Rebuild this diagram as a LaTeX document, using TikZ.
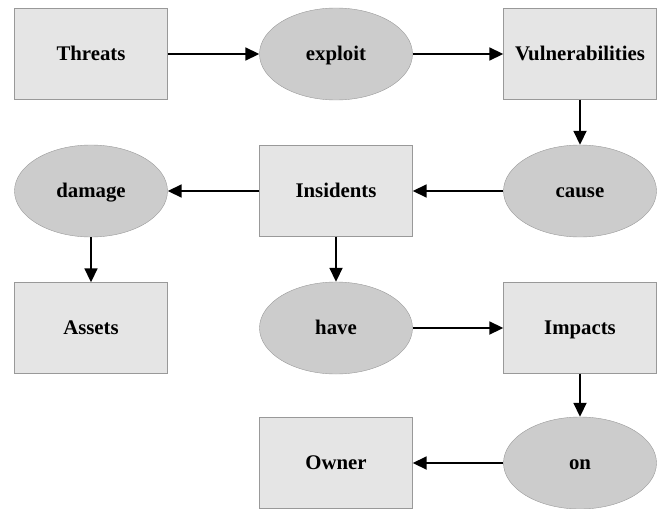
\documentclass[tikz,border=0pt]{standalone}
\usepackage{fontspec}
\setmainfont{Liberation Serif}
\usetikzlibrary{shapes.geometric,arrows.meta}
\begin{document}
\begin{tikzpicture}[x=1pt,y=-1pt,inner sep=0pt,
    box/.style={rectangle,draw=black!40,fill=black!10,minimum width=153pt,minimum height=91pt,text height=13.7pt,text depth=0pt,font=\fontsize{20.8}{24}\selectfont\bfseries},
    oval/.style={ellipse,draw=black!40,fill=black!20,minimum width=153pt,minimum height=92pt,text height=13.7pt,text depth=0pt,font=\fontsize{20.8}{24}\selectfont\bfseries},
    link/.style={-{Triangle[length=14pt,width=13pt]},line width=1.8pt}]
    \useasboundingbox (0,0) rectangle (660,508);

    \node (T) at (91,54) [box]{Threats};
    \node (E) at (336,54) [oval]{exploit};
    \node (V) at (580,54) [box]{Vulnerabilities};
    \draw [link] (T) to (E);
    \draw [link] (E) to (V);

    \node (D) at (91,191) [oval]{damage};
    \node (I) at (336,191) [box]{Insidents};
    \node (C) at (580,191) [oval]{cause};
    \draw [link] (V) to (C);
    \draw [link] (C) to (I);
    \draw [link] (I) to (D);

    \node (A) at (91,328) [box]{Assets};
    \node (H) at (336,328) [oval]{have};
    \node (P) at (580,328) [box]{Impacts};
    \draw [link] (D) to (A);
    \draw [link] (I) to (H);
    \draw [link] (H) to (P);

    \node (O) at (336,463) [box]{Owner};
    \node (N) at (580,463) [oval]{on};
    \draw [link] (P) to (N);
    \draw [link] (N) to (O);
\end{tikzpicture}
\end{document}
